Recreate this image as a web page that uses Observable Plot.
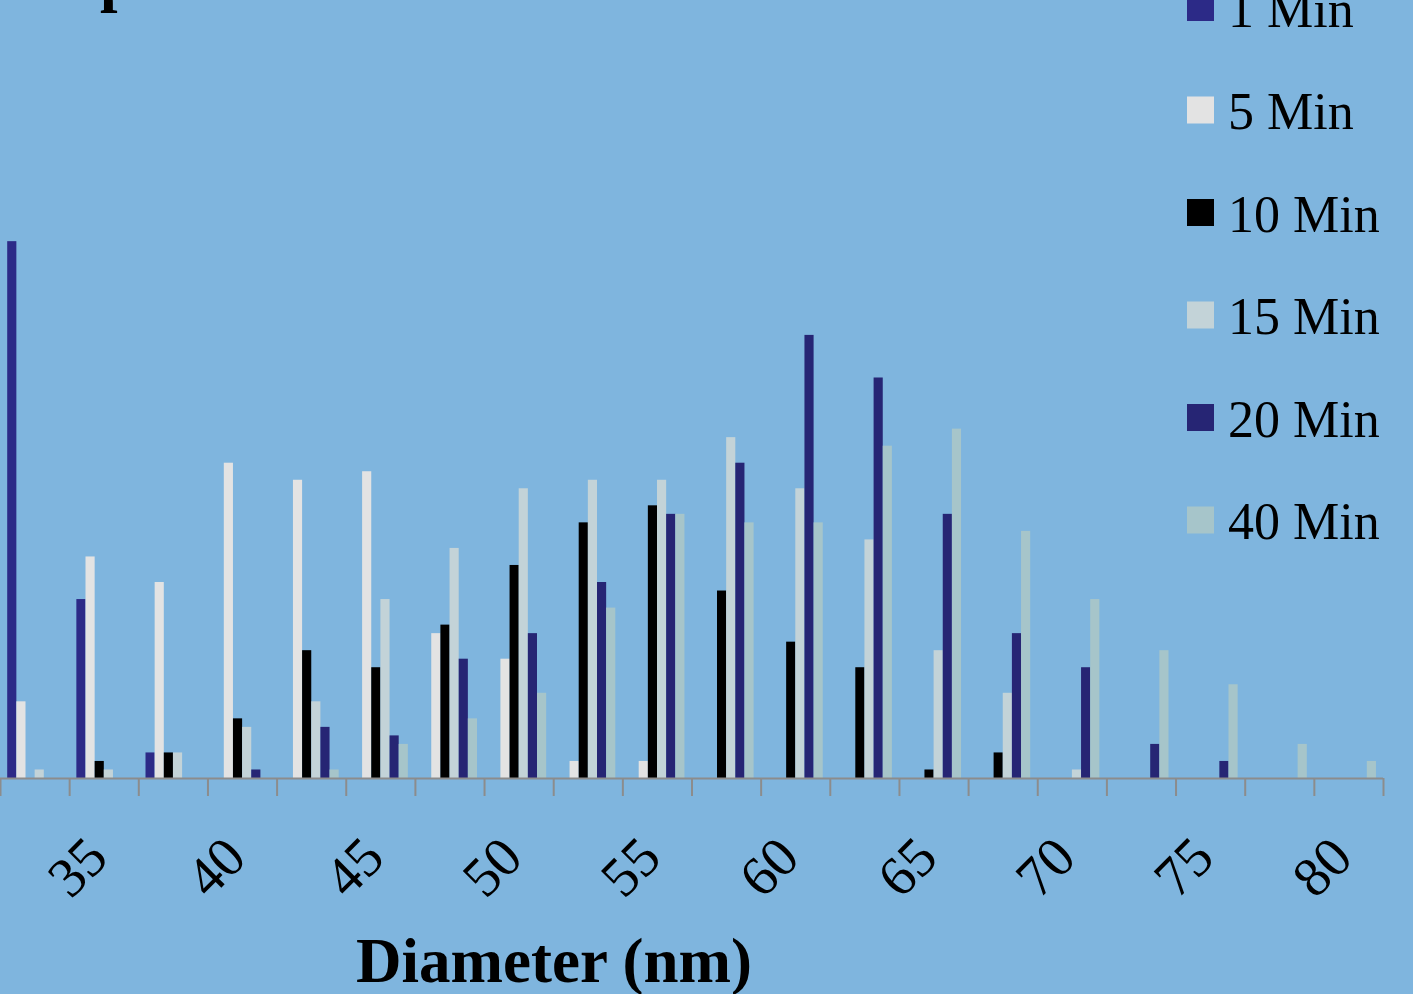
<!DOCTYPE html>
<html>
<head>
<meta charset="utf-8">
<script src="https://cdn.jsdelivr.net/npm/d3@7"></script>
<script src="https://cdn.jsdelivr.net/npm/@observablehq/plot@0.6"></script>
<style>
  html, body { margin: 0; padding: 0; background: #7fb5de; overflow: hidden; }
  #wrap { position: relative; width: 1413px; height: 994px; overflow: hidden; background: #7fb5de; }
  #wrap > svg { position: absolute; left: 0; top: 0; }
</style>
</head>
<body>
<div id="wrap"></div>
<script>
// ---- data ----
const diameters = ["32.5","35","37.5","40","42.5","45","47.5","50","52.5","55","57.5","60","62.5","65","67.5","70","72.5","75","77.5","80"];
const tickLabels = ["35","40","45","50","55","60","65","70","75","80"];
const seriesNames = ["1 Min","5 Min","10 Min","15 Min","20 Min","40 Min"];
const seriesColors = ["#2c2a87","#e3e3e3","#000000","#c3d3d8","#262574","#a6c5ca"];
const min1  = [63,21,3,0,0,0,0,0,0,0,0,0,0,0,0,0,0,0,0,0];
const min5  = [9,26,23,37,35,36,17,14,2,2,0,0,0,0,0,0,0,0,0,0];
const min10 = [0,2,3,7,15,13,18,25,30,32,22,16,13,1,3,0,0,0,0,0];
const min15 = [1,1,3,6,9,21,27,34,35,35,40,34,28,15,10,1,0,0,0,0];
const min20 = [0,0,0,1,6,5,14,17,23,31,37,52,47,31,17,13,4,2,0,0];
const min40 = [0,0,0,0,1,4,7,10,20,31,30,30,39,41,29,21,15,11,4,2];
const seriesValues = [min1, min5, min10, min15, min20, min40];

// ---- layout ----
const W = 1413, H = 994;
const mL = 0, mR = 30, mT = 0, mB = 216;
const bw = (W - mL - mR) / diameters.length;
const slotStart = 7.2, slotW = 9.15;
const serif = "'Liberation Serif', 'Times New Roman', Times, serif";

const barMarks = seriesValues.map((vals, i) =>
  Plot.barY(
    diameters.map((d, j) => ({diameter: d, value: vals[j], series: seriesNames[i]})).filter(d => d.value > 0),
    {
      x: "diameter", y: "value", fill: seriesColors[i],
      insetLeft: slotStart + i * slotW,
      insetRight: bw - slotStart - (i + 1) * slotW
    }
  )
);

const chart = Plot.plot({
  width: W, height: H,
  marginLeft: mL, marginRight: mR, marginTop: mT, marginBottom: mB,
  style: {background: "transparent", fontFamily: serif, color: "black"},
  x: {type: "band", domain: diameters, padding: 0, round: false, axis: null},
  y: {domain: [0, 91.3], axis: null},
  marks: [
    ...barMarks,
    Plot.ruleY([0], {stroke: "#8c8c8c", strokeWidth: 2}),
    Plot.axisX({ticks: diameters, tickSize: 18, tickFormat: () => "", label: null, dx: -bw / 2, stroke: "#8c8c8c", strokeWidth: 2}),
    Plot.axisX({ticks: [diameters[diameters.length - 1]], tickSize: 18, tickFormat: () => "", label: null, dx: bw / 2, stroke: "#8c8c8c", strokeWidth: 2}),
    Plot.text(tickLabels, {x: d => d, frameAnchor: "bottom", dy: 82, dx: 6, rotate: -45, textAnchor: "end", fontSize: 56, fontFamily: serif, fill: "black"}),
    Plot.text(["Diameter (nm)"], {frameAnchor: "bottom", dy: 203, dx: 553.5 - (W - mR) / 2, fontSize: 63, fontWeight: "bold", fontFamily: serif, fill: "black"})
  ]
});
document.getElementById("wrap").appendChild(chart);

// ---- legend + cropped title overlay ----
const overlay = d3.select("#wrap").append("svg")
  .attr("width", W).attr("height", H)
  .style("pointer-events", "none")
  .style("overflow", "hidden");

overlay.append("text")
  .attr("x", 100).attr("y", -1.5)
  .attr("font-family", serif).attr("font-size", 63).attr("font-weight", "bold")
  .text("p");

const lg = overlay.append("g").attr("font-family", serif).attr("font-size", 52);
seriesNames.forEach((name, i) => {
  const row = lg.append("g").attr("transform", `translate(0, ${102.5 * i})`);
  row.append("rect").attr("x", 1187).attr("y", -6).attr("width", 27).attr("height", 27).attr("fill", seriesColors[i]);
  row.append("text").attr("x", 1228).attr("y", 26.5).attr("fill", "black").text(name);
});
</script>
</body>
</html>
